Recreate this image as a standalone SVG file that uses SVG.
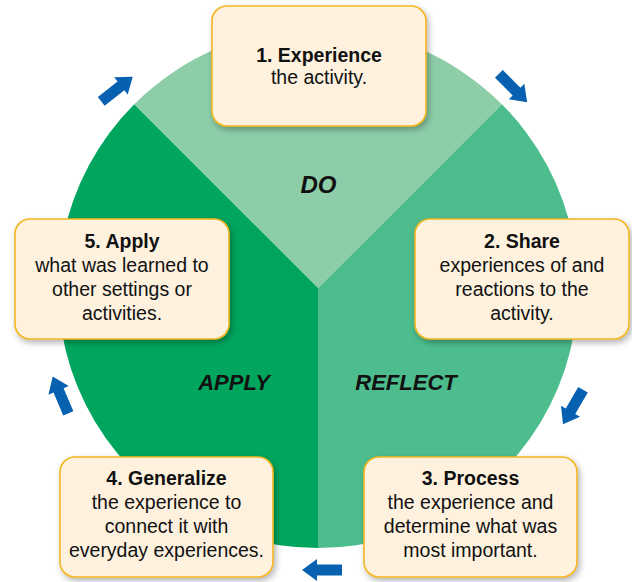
<svg xmlns="http://www.w3.org/2000/svg" xmlns:xlink="http://www.w3.org/1999/xlink" width="632" height="582" viewBox="0 0 632 582">
<defs>
<filter id="sh" x="-10%" y="-10%" width="125%" height="130%">
<feDropShadow dx="2" dy="3" stdDeviation="3" flood-color="#000" flood-opacity="0.3"/>
</filter>
<path id="arr" d="M-20,-5.5 H5 V-11 L20,0 L5,11 V5.5 H-20 Z"/>
</defs>
<style>
.box{fill:#fef2df;stroke:#f3b61f;stroke-width:1.6;filter:url(#sh)}
.t{font-family:"Liberation Sans",Arial,sans-serif;font-size:19.5px;fill:#111;text-anchor:middle}
.b{font-weight:bold}
.lab{font-family:"Liberation Sans",Arial,sans-serif;font-size:22px;font-weight:bold;font-style:italic;fill:#111;text-anchor:middle}
.ar{fill:#0760b0}
</style>
<g id="wheel">
<path id="sector-do" d="M318,288 L134.2,104.2 A260,260 0 0 1 501.8,104.2 Z" fill="#8dcea9"/>
<path id="sector-reflect" d="M318,288 L501.8,104.2 A260,260 0 0 1 318,548 Z" fill="#4dbd8e"/>
<path id="sector-apply" d="M318,288 L318,548 A260,260 0 0 1 134.2,104.2 Z" fill="#00a65d"/>
<text class="lab" x="318.5" y="193" style="font-size:24px">DO</text>
<text class="lab" x="234" y="390">APPLY</text>
<text class="lab" x="406" y="390">REFLECT</text>
</g>
<g id="connectors">
<use href="#arr" class="ar" transform="translate(513,88) rotate(45)"/>
<use href="#arr" class="ar" transform="translate(573,407) rotate(120)"/>
<use href="#arr" class="ar" transform="translate(322,570) rotate(180)"/>
<use href="#arr" class="ar" transform="translate(60.5,395) rotate(247)"/>
<use href="#arr" class="ar" transform="translate(117,89) rotate(-38)"/>
</g>
<g id="node1">
<rect class="box" x="212" y="6" width="214" height="120" rx="15"/>
<text class="t b" x="319" y="62">1. Experience</text>
<text class="t" x="319" y="84">the activity.</text>
</g>
<g id="node2">
<rect class="box" x="415" y="219" width="214" height="120" rx="15"/>
<text class="t b" x="522" y="248">2. Share</text>
<text class="t" x="522" y="272">experiences of and</text>
<text class="t" x="522" y="296">reactions to the</text>
<text class="t" x="522" y="320">activity.</text>
</g>
<g id="node3">
<rect class="box" x="364" y="457" width="213" height="120" rx="15"/>
<text class="t b" x="470.5" y="485">3. Process</text>
<text class="t" x="470.5" y="509">the experience and</text>
<text class="t" x="470.5" y="533">determine what was</text>
<text class="t" x="470.5" y="557">most important.</text>
</g>
<g id="node4">
<rect class="box" x="60" y="457" width="213" height="120" rx="15"/>
<text class="t b" x="166.5" y="485">4. Generalize</text>
<text class="t" x="166.5" y="509">the experience to</text>
<text class="t" x="166.5" y="533">connect it with</text>
<text class="t" x="166.5" y="557">everyday experiences.</text>
</g>
<g id="node5">
<rect class="box" x="15" y="219" width="214" height="120" rx="15"/>
<text class="t b" x="122" y="248">5. Apply</text>
<text class="t" x="122" y="272">what was learned to</text>
<text class="t" x="122" y="296">other settings or</text>
<text class="t" x="122" y="320">activities.</text>
</g>
</svg>
